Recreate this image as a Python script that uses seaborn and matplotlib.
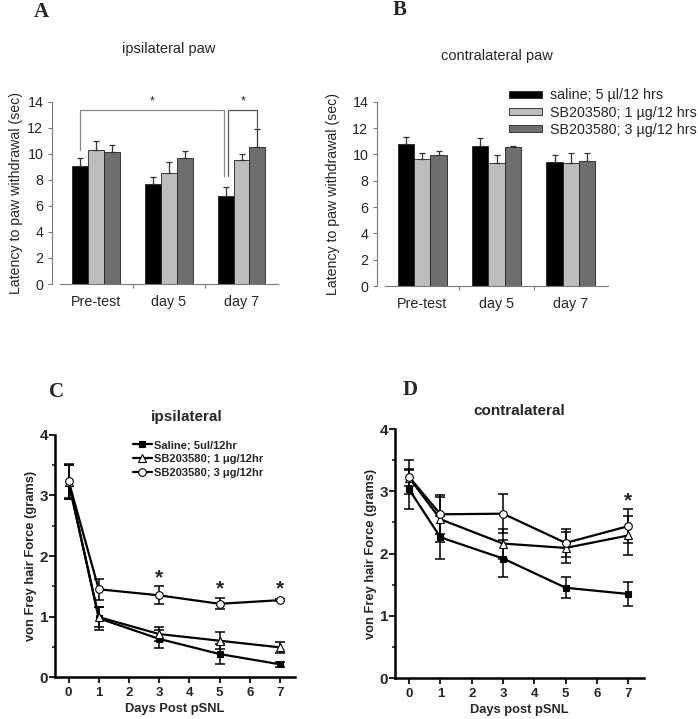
import numpy as np
import pandas as pd
import matplotlib
matplotlib.use('Agg')
import matplotlib.pyplot as plt
import seaborn as sns
from matplotlib.ticker import MultipleLocator, FixedLocator

# 柱状图数据 (A: ipsilateral paw, B: contralateral paw)
times = ['Pre-test', 'day 5', 'day 7']
groups = ['saline; 5 µl/12 hrs', 'SB203580; 1 µg/12 hrs', 'SB203580; 3 µg/12 hrs']

ipsi_saline = [9.05, 7.7, 6.75]
ipsi_sb1 = [10.3, 8.5, 9.55]
ipsi_sb3 = [10.1, 9.65, 10.5]
ipsi_saline_err = [0.65, 0.5, 0.68]
ipsi_sb1_err = [0.7, 0.85, 0.45]
ipsi_sb3_err = [0.6, 0.6, 1.38]

contra_saline = [10.8, 10.6, 9.4]
contra_sb1 = [9.65, 9.35, 9.35]
contra_sb3 = [9.95, 10.55, 9.5]
contra_saline_err = [0.5, 0.65, 0.55]
contra_sb1_err = [0.45, 0.6, 0.75]
contra_sb3_err = [0.3, 0.08, 0.6]

# von Frey 数据 (C: ipsilateral, D: contralateral)
days = [0, 1, 3, 5, 7]
line_labels = ['Saline; 5ul/12hr', 'SB203580; 1 μg/12hr', 'SB203580; 3 μg/12hr']

c_saline = [3.23, 0.97, 0.63, 0.38, 0.21]
c_sb1 = [3.22, 0.99, 0.71, 0.60, 0.49]
c_sb3 = [3.24, 1.45, 1.35, 1.21, 1.27]
c_saline_err = [0.28, 0.19, 0.15, 0.17, 0.04]
c_sb1_err = [0.28, 0.17, 0.12, 0.14, 0.09]
c_sb3_err = [0.28, 0.17, 0.15, 0.09, 0.02]

d_saline = [3.03, 2.26, 1.92, 1.45, 1.35]
d_sb1 = [3.22, 2.55, 2.16, 2.09, 2.29]
d_sb3 = [3.23, 2.63, 2.64, 2.17, 2.44]
d_saline_err = [0.31, 0.34, 0.29, 0.17, 0.19]
d_sb1_err = [0.13, 0.36, 0.24, 0.25, 0.32]
d_sb3_err = [0.28, 0.31, 0.31, 0.23, 0.27]

sns.set_style('ticks')
plt.rcParams['font.family'] = ['Liberation Sans', 'DejaVu Sans']

fig = plt.figure(figsize=(6.98, 7.19), dpi=100)

bar_colors = ['#000000', '#bdbdbd', '#6e6e6e']
spine_gray = '#7a7a7a'


def bar_panel(ax, vals, errs, title, pad, ylabelpad, legend):
    df = pd.DataFrame({
        'time': times * 3,
        'group': np.repeat(groups, 3),
        'value': np.concatenate(vals),
    })
    sns.barplot(data=df, x='time', y='value', hue='group', palette=bar_colors,
                width=0.66, errorbar=None, edgecolor='#222222', linewidth=0.6,
                ax=ax, legend=legend)
    for cont, err in zip(ax.containers, errs):
        xs = [b.get_x() + b.get_width() / 2 for b in cont]
        hs = [b.get_height() for b in cont]
        ax.errorbar(xs, hs, yerr=[np.zeros(len(err)), err], fmt='none',
                    ecolor='#333333', elinewidth=0.9, capsize=2.2, capthick=0.9)
    ax.set_ylim(0, 14)
    ax.set_xlim(-0.5, 2.5)
    ax.yaxis.set_major_locator(MultipleLocator(2))
    ax.set_xlabel('')
    ax.set_ylabel('Latency to paw withdrawal (sec)', fontsize=10.2, labelpad=ylabelpad)
    ax.set_title(title, fontsize=10.5, pad=pad)
    sns.despine(ax=ax)
    ax.spines['left'].set_position(('outward', 6))
    for s in ['left', 'bottom']:
        ax.spines[s].set_color(spine_gray)
        ax.spines[s].set_linewidth(0.8)
    ax.tick_params(axis='y', labelsize=10.3, color=spine_gray, length=3, width=0.8, pad=3)
    ax.tick_params(axis='x', which='major', labelsize=10.3, length=0, pad=8)
    ax.xaxis.set_minor_locator(FixedLocator([0.5, 1.5]))
    ax.tick_params(axis='x', which='minor', length=3, color=spine_gray, width=0.8)


axA = fig.add_axes([0.086, 0.605, 0.312, 0.2536])
bar_panel(axA, [ipsi_saline, ipsi_sb1, ipsi_sb3],
          [ipsi_saline_err, ipsi_sb1_err, ipsi_sb3_err], 'ipsilateral paw', 35, 3, False)

# 显著性括号
bars_a = axA.containers
x_pre = bars_a[0][0].get_x() + bars_a[0][0].get_width() / 2
x_d7a = bars_a[0][2].get_x() + bars_a[0][2].get_width() * 0.4
x_d7b = bars_a[0][2].get_x() + bars_a[0][2].get_width() * 0.65
x_d7c = bars_a[2][2].get_x() + bars_a[2][2].get_width() / 2
axA.plot([x_pre, x_pre, x_d7a, x_d7a], [10.3, 13.35, 13.35, 8.3], color='#888888', lw=0.9, clip_on=False)
axA.plot([x_d7b, x_d7b, x_d7c, x_d7c], [8.3, 13.35, 13.35, 12.0], color='#555555', lw=0.9, clip_on=False)
axA.text((x_pre + x_d7a) / 2, 14.0, '*', ha='center', va='center', fontsize=9)
axA.text((x_d7b + x_d7c) / 2, 14.0, '*', ha='center', va='center', fontsize=9)

axB = fig.add_axes([0.5516, 0.6022, 0.3195, 0.2564])
bar_panel(axB, [contra_saline, contra_sb1, contra_sb3],
          [contra_saline_err, contra_sb1_err, contra_sb3_err], 'contralateral paw', 30, 9, True)
handles, labels = axB.get_legend_handles_labels()
axB.legend(handles, labels, loc='upper left', bbox_to_anchor=(0.729, 0.877),
           bbox_transform=fig.transFigure, frameon=False, fontsize=10.3,
           handlelength=2.3, handleheight=0.42, handletextpad=0.6,
           labelspacing=0.22, borderpad=0, borderaxespad=0)


def line_panel(ax, series, errs, title, xlabel, stars, legend):
    markers = ['s', '^', 'o']
    faces = ['black', 'white', 'white']
    sizes = [5, 5.5, 5.5]
    for vals, err, lab, m, fc, ms in zip(series, errs, line_labels, markers, faces, sizes):
        ax.errorbar(days, vals, yerr=err, fmt='none', ecolor='black',
                    elinewidth=1.1, capsize=3.5, capthick=1.1, zorder=2)
        sns.lineplot(x=days, y=vals, ax=ax, color='black', lw=1.6, marker=m,
                     markersize=ms, markerfacecolor=fc, markeredgecolor='black',
                     markeredgewidth=0.8, label=lab, zorder=3)
    ax.set_xlim(-0.45, 7.5)
    ax.set_ylim(0, 4)
    ax.xaxis.set_major_locator(MultipleLocator(1))
    ax.yaxis.set_major_locator(MultipleLocator(1))
    ax.yaxis.set_minor_locator(MultipleLocator(0.5))
    sns.despine(ax=ax)
    for s in ['left', 'bottom']:
        ax.spines[s].set_linewidth(1.8)
        ax.spines[s].set_color('black')
    ax.tick_params(axis='y', which='major', labelsize=11, length=4, width=1.5, pad=1)
    ax.tick_params(axis='y', which='minor', length=2.5, width=1.2)
    ax.tick_params(axis='x', which='major', labelsize=9.5, length=4, width=1.5, pad=3)
    for lbl in ax.get_xticklabels() + ax.get_yticklabels():
        lbl.set_fontweight('bold')
    ax.set_xlabel(xlabel, fontsize=9.3, fontweight='bold', labelpad=3)
    ax.set_ylabel('von Frey hair Force (grams)', fontsize=9.3, fontweight='bold', labelpad=2)
    ax.set_title(title, fontsize=11, fontweight='bold', pad=10)
    for sx, sy in stars:
        ax.text(sx, sy, '*', ha='center', va='top', fontsize=15, fontweight='bold')
    if legend:
        ax.legend(loc='upper left', bbox_to_anchor=(0.1905, 0.388),
                  bbox_transform=fig.transFigure, frameon=False,
                  prop={'size': 8, 'weight': 'bold'}, handlelength=1.7,
                  handletextpad=0.15, labelspacing=0.36, borderpad=0,
                  borderaxespad=0, numpoints=1)
    else:
        ax.get_legend().remove()


axC = fig.add_axes([0.0788, 0.0584, 0.3438, 0.3366])
line_panel(axC, [c_saline, c_sb1, c_sb3], [c_saline_err, c_sb1_err, c_sb3_err],
           'ipsilateral', 'Days Post pSNL', [(3, 1.80), (5, 1.61), (7, 1.61)], True)
axC.title.set_position((0.55, 1.0))

axD = fig.add_axes([0.5659, 0.057, 0.3567, 0.3463])
line_panel(axD, [d_saline, d_sb1, d_sb3], [d_saline_err, d_sb1_err, d_sb3_err],
           'contralateral', 'Days post pSNL', [(7, 3.0)], False)

# 面板字母
for lab, x, y in [('A', 41, 12), ('B', 400, 10), ('C', 57, 392), ('D', 410, 390)]:
    fig.text(x / 698, 1 - y / 719, lab, ha='center', va='center', fontsize=15,
             fontweight='bold', family=['Liberation Serif', 'DejaVu Serif'])

fig.savefig('out.png', dpi=100)
